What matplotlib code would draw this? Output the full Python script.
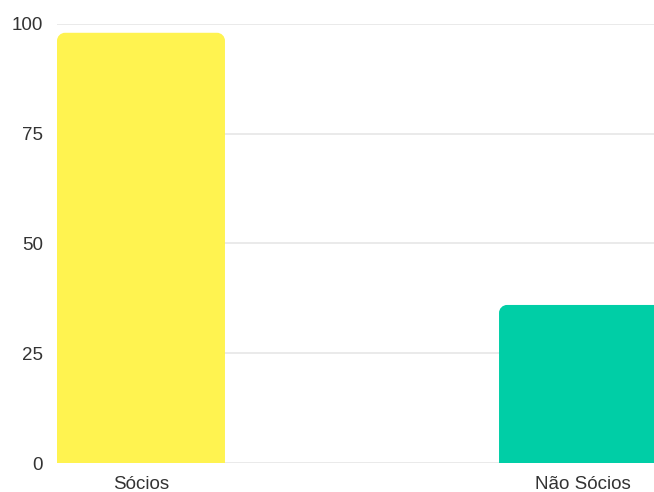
import matplotlib
matplotlib.use("Agg")
import matplotlib.pyplot as plt
from matplotlib.path import Path
from matplotlib.patches import PathPatch

plt.rcParams["font.family"] = ["Liberation Sans", "DejaVu Sans"]

categories = ["Sócios", "Não Sócios"]
values = [98, 36]
colors = ["#FFF350", "#00CEA6"]
y_ticks = [0, 25, 50, 75, 100]

W, H = 654, 492
fig = plt.figure(figsize=(W / 100, H / 100), dpi=100)
# the plot area runs past the right edge, so the second bar is cut off
ax = fig.add_axes([57 / W, 29 / H, 610 / W, 439 / H])

bar_w = 0.38
x_lo, x_hi = -bar_w / 2, 1 + bar_w / 2
ax.set_xlim(x_lo, x_hi)
ax.set_ylim(0, 100)

# corner radius in pixels -> data units on each axis
r_px = 8
rx = r_px * (x_hi - x_lo) / 610
ry = r_px * 100 / 439


def rounded_top(x0, w, h):
    k = 0.5523
    verts = [
        (x0, 0), (x0, h - ry),
        (x0, h - ry + k * ry), (x0 + rx - k * rx, h), (x0 + rx, h),
        (x0 + w - rx, h),
        (x0 + w - rx + k * rx, h), (x0 + w, h - ry + k * ry), (x0 + w, h - ry),
        (x0 + w, 0), (x0, 0),
    ]
    codes = [Path.MOVETO, Path.LINETO,
             Path.CURVE4, Path.CURVE4, Path.CURVE4,
             Path.LINETO,
             Path.CURVE4, Path.CURVE4, Path.CURVE4,
             Path.LINETO, Path.CLOSEPOLY]
    return Path(verts, codes)


for i, (v, c) in enumerate(zip(values, colors)):
    ax.add_patch(PathPatch(rounded_top(i - bar_w / 2, bar_w, v),
                           facecolor=c, edgecolor="none", zorder=2))

ax.set_yticks(y_ticks)
ax.set_xticks(range(len(categories)))
ax.set_xticklabels(categories)
ax.grid(axis="y", color="#e6e6e6", linewidth=1.2, zorder=0)
ax.set_axisbelow(True)
for s in ax.spines.values():
    s.set_visible(False)
ax.tick_params(axis="both", length=0, labelsize=13.5, labelcolor="#333333")
ax.tick_params(axis="y", pad=10)
ax.tick_params(axis="x", pad=9.5)

fig.savefig("out.png", dpi=100)
